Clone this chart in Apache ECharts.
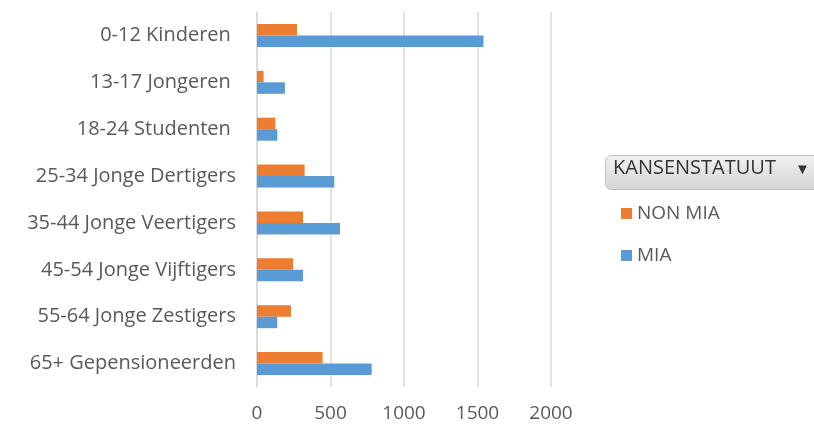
<!DOCTYPE html>
<html>
<head>
<meta charset="utf-8">
<script src="https://cdn.jsdelivr.net/npm/echarts@6/dist/echarts.min.js"></script>
<style>
  html, body { margin: 0; padding: 0; background: #fff; }
  #chart { width: 814px; height: 426px; }
</style>
</head>
<body>
<div id="chart"></div>
<script>
// categories top to bottom
const categories = [
  "0-12 Kinderen ",
  "13-17 Jongeren ",
  "18-24 Studenten ",
  "25-34 Jonge Dertigers",
  "35-44 Jonge Veertigers",
  "45-54 Jonge Vijftigers",
  "55-64 Jonge Zestigers",
  "65+ Gepensioneerden"
];
const nonMia = [272, 45, 125, 324, 313, 245, 231, 446];
const mia = [1541, 190, 138, 526, 565, 313, 138, 780];
const xTicks = [0, 500, 1000, 1500, 2000];

const myChart = echarts.init(document.getElementById("chart"));
const font = "'Open Sans', 'Noto Sans', sans-serif";

const option = {
  animation: false,
  textStyle: { fontFamily: font },
  grid: { left: 257, right: 263, top: 12, bottom: 39 },
  legend: {
    orient: "vertical",
    left: 616,
    top: 199,
    itemGap: 23,
    itemWidth: 11,
    itemHeight: 11,
    icon: "rect",
    textStyle: { color: "#595959", fontSize: 19, fontFamily: font },
    data: ["NON MIA", "MIA"]
  },
  xAxis: {
    type: "value",
    min: xTicks[0],
    max: xTicks[xTicks.length - 1],
    interval: 500,
    axisLine: { show: false },
    axisTick: { show: false },
    axisLabel: {
      color: "#595959",
      fontSize: 19,
      margin: 17,
      formatter: (v) => String(v)
    },
    splitLine: { lineStyle: { color: "#d9d9d9", width: 1.5 } }
  },
  yAxis: {
    type: "category",
    inverse: true,
    data: categories,
    axisLine: { show: true, lineStyle: { color: "#d9d9d9", width: 1.5 } },
    axisTick: { show: false },
    axisLabel: { color: "#595959", fontSize: 20, margin: 21 }
  },
  graphic: [
    {
      type: "rect",
      left: 605,
      top: 155,
      shape: { width: 220, height: 34, r: 6 },
      style: {
        fill: new echarts.graphic.LinearGradient(0, 0, 0, 1, [
          { offset: 0, color: "#f2f2f2" },
          { offset: 1, color: "#d4d4d4" }
        ]),
        stroke: "#bfbfbf",
        lineWidth: 1
      }
    },
    {
      type: "text",
      left: 613,
      top: 158,
      style: { text: "KANSENSTATUUT", fill: "#333333", font: "20px " + font }
    },
    {
      type: "text",
      left: 795,
      top: 162,
      style: { text: "▼", fill: "#333", font: "15px " + font }
    }
  ],
  series: [
    {
      name: "NON MIA",
      type: "bar",
      data: nonMia,
      barWidth: 11.5,
      barGap: "0%",
      itemStyle: { color: "#ed7d31" }
    },
    {
      name: "MIA",
      type: "bar",
      data: mia,
      barWidth: 11.5,
      barGap: "0%",
      itemStyle: { color: "#5b9bd5" }
    }
  ]
};

myChart.setOption(option);
</script>
</body>
</html>
